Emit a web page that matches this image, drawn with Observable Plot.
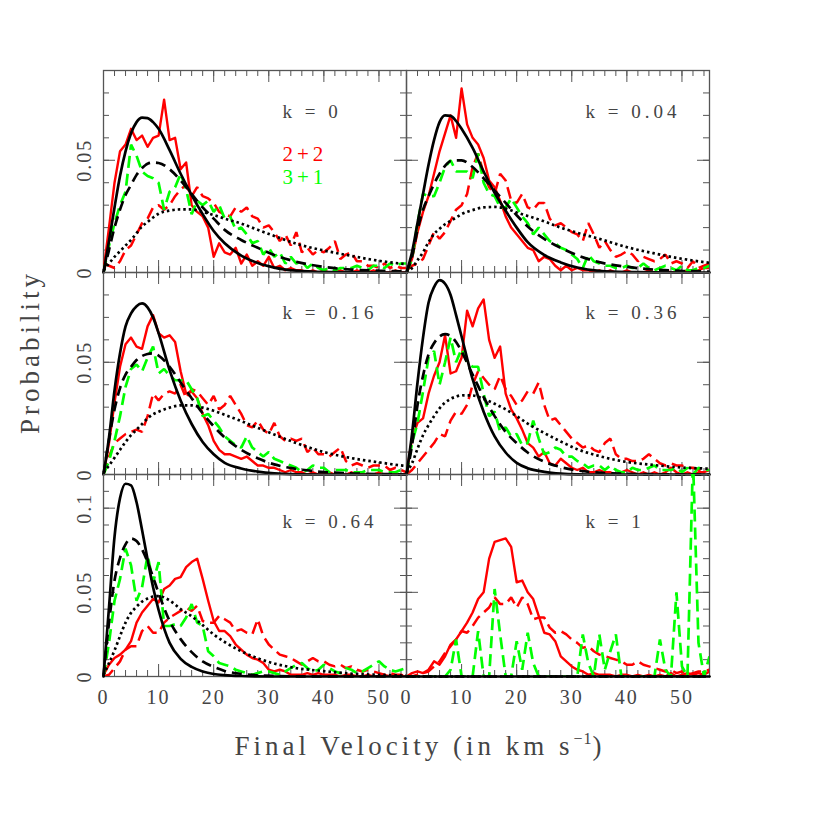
<!DOCTYPE html>
<html><head><meta charset="utf-8">
<script src="https://cdn.jsdelivr.net/npm/d3@7"></script>
<script src="https://cdn.jsdelivr.net/npm/@observablehq/plot@0.6"></script>
<style>
body{margin:0;background:#fff;}
#wrap{position:relative;width:830px;height:830px;background:#fff;font-family:"Liberation Serif","DejaVu Serif",serif;}
.axtitle{position:absolute;color:#444;font-family:"Liberation Serif","DejaVu Serif",serif;font-size:27px;letter-spacing:4px;white-space:nowrap;}
</style></head><body>
<div id="wrap">
  <div class="axtitle" style="left:30px;top:352px;transform:translate(-50%,-50%) rotate(-90deg);">Probability</div>
  <div class="axtitle" style="left:420px;top:746px;transform:translate(-50%,-50%);">Final Velocity (in km s<span style="font-size:16px;vertical-align:11px;letter-spacing:1px">−1</span>)</div>
</div>
<script>
// ---- x grids ----
const velocity = d3.range(0, 56);               // histogram bins, km/s
const smoothVelocity = [0,1,2,3,4,5,6,7,8,9,10,12,14,16,18,20,22,25,28,31,35,40,45,50,55];
const kLabels = ["0","0.04","0.16","0.36","0.64","1"];
const xTickLabels = [0,10,20,30,40,50];

// ---- k = 0 ----
const red22Solid_k0 = [0.001,0.020,0.040,0.054,0.057,0.064,0.059,0.061,0.056,0.060,
 0.061,0.077,0.059,0.060,0.046,0.049,0.030,0.027,0.025,0.020,
 0.007,0.013,0.009,0.008,0.011,0.004,0.008,0.003,0.005,0.003,
 0.007,0.002,0.003,0.001,0.002,0.001,0.001,0.000,0.001,0.000,
 0.001,0.000,0.000,0.001,0.000,0.000,0.001,0.000,0.000,0.001,
 0.000,0.000,0.000,0.001,0.000,0.000];
const red22Dashed_k0 = [0.004,0.003,0.002,0.005,0.010,0.012,0.017,0.022,0.024,0.029,
 0.030,0.028,0.030,0.034,0.037,0.039,0.034,0.038,0.034,0.033,
 0.031,0.027,0.026,0.025,0.029,0.027,0.029,0.025,0.024,0.020,
 0.021,0.018,0.014,0.017,0.012,0.018,0.009,0.011,0.008,0.010,
 0.009,0.011,0.014,0.006,0.008,0.009,0.005,0.005,0.003,0.003,
 0.002,0.004,0.002,0.003,0.002,0.002];
const green31_k0 = [0.000,0.012,0.022,0.030,0.036,0.057,0.052,0.045,0.043,0.042,
 0.040,0.028,0.036,0.038,0.044,0.037,0.026,0.032,0.030,0.032,
 0.027,0.030,0.024,0.025,0.019,0.020,0.017,0.013,0.014,0.008,
 0.011,0.007,0.009,0.004,0.007,0.004,0.005,0.002,0.004,0.002,
 0.001,0.002,0.001,0.002,0.002,0.002,0.003,0.002,0.001,0.003,
 0.003,0.002,0.004,0.003,0.004,0.004];
const modelSolid_k0  = [0,0.014,0.029,0.043,0.054,0.062,0.067,0.069,0.0688,0.067,0.064,0.0545,0.044,0.0345,0.026,0.0185,0.013,0.0075,0.0042,0.0022,0.0008,0.0002,0.0001,0,0];
const modelDashed_k0 = [0,0.010,0.020,0.028,0.0345,0.039,0.0435,0.0465,0.0485,0.049,0.0488,0.046,0.041,0.035,0.029,0.024,0.019,0.0145,0.011,0.0078,0.0048,0.0025,0.0013,0.0008,0.0005];
const modelDotted_k0 = [0.001,0.004,0.007,0.0095,0.012,0.0145,0.0175,0.0205,0.0225,0.0245,0.0262,0.0276,0.0281,0.0281,0.027,0.0256,0.024,0.0218,0.019,0.0163,0.0128,0.0098,0.0074,0.0052,0.0037];

// ---- k = 0.04 ----
const red22Solid_k004 = [0.000,0.006,0.018,0.027,0.034,0.044,0.054,0.062,0.070,0.060,
 0.082,0.066,0.060,0.057,0.051,0.041,0.038,0.032,0.025,0.020,
 0.017,0.014,0.011,0.010,0.005,0.007,0.006,0.003,0.001,0.003,
 0.001,0.002,0.001,0.001,0.000,0.001,0.000,0.001,0.000,0.000,
 0.001,0.000,0.000,0.000,0.001,0.000,0.000,0.001,0.000,0.000,
 0.000,0.001,0.000,0.001,0.002,0.002];
const red22Dashed_k004 = [0.001,0.003,0.004,0.006,0.012,0.018,0.015,0.018,0.023,0.028,
 0.030,0.035,0.047,0.053,0.044,0.038,0.035,0.044,0.041,0.032,
 0.031,0.035,0.029,0.028,0.031,0.031,0.024,0.021,0.022,0.020,
 0.018,0.017,0.014,0.022,0.017,0.011,0.014,0.010,0.007,0.008,
 0.0095,0.008,0.005,0.007,0.006,0.005,0.006,0.008,0.004,0.005,
 0.004,0.002,0.005,0.002,0.003,0.004];
const green31_k004 = [0.000,0.006,0.022,0.035,0.034,0.034,0.040,0.047,0.050,0.045,
 0.045,0.045,0.042,0.053,0.040,0.035,0.034,0.029,0.029,0.033,
 0.029,0.025,0.022,0.017,0.020,0.017,0.014,0.013,0.011,0.010,
 0.008,0.006,0.002,0.008,0.005,0.004,0.003,0.003,0.002,0.002,
 0.003,0.002,0.002,0.004,0.002,0.001,0.002,0.003,0.002,0.001,
 0.003,0.001,0.001,0.002,0.002,0.003];
const modelSolid_k004  = [0,0.009,0.022,0.035,0.048,0.059,0.067,0.070,0.0698,0.0675,0.064,0.0555,0.045,0.0355,0.0275,0.020,0.0135,0.0078,0.0045,0.0022,0.0007,0.0002,0.0001,0,0];
const modelDashed_k004 = [0,0.007,0.019,0.028,0.034,0.0395,0.044,0.0475,0.0497,0.050,0.050,0.047,0.042,0.0365,0.031,0.0255,0.0205,0.015,0.011,0.0077,0.0046,0.0025,0.0013,0.0007,0.0004];
const modelDotted_k004 = [0,0.002,0.0055,0.009,0.0135,0.0172,0.0195,0.0215,0.023,0.0245,0.026,0.0278,0.029,0.0292,0.0285,0.0267,0.0252,0.0228,0.020,0.0177,0.015,0.0113,0.0085,0.0061,0.0043];

// ---- k = 0.16 ----
const red22Solid_k016 = [0.000,0.014,0.032,0.048,0.058,0.061,0.057,0.056,0.066,0.071,
 0.063,0.061,0.062,0.059,0.046,0.036,0.037,0.034,0.027,0.022,
 0.015,0.011,0.009,0.009,0.008,0.007,0.008,0.006,0.004,0.004,
 0.003,0.003,0.002,0.001,0.002,0.001,0.001,0.000,0.001,0.000,
 0.000,0.001,0.000,0.000,0.000,0.001,0.000,0.000,0.000,0.000,
 0.001,0.000,0.000,0.000,0.000,0.000];
const red22Dashed_k016 = [0.000,0.008,0.014,0.016,0.018,0.019,0.020,0.019,0.026,0.036,
 0.033,0.036,0.037,0.036,0.040,0.034,0.038,0.037,0.034,0.031,
 0.035,0.029,0.031,0.035,0.031,0.027,0.022,0.021,0.024,0.020,
 0.018,0.023,0.017,0.015,0.016,0.015,0.016,0.010,0.012,0.009,
 0.009,0.008,0.010,0.012,0.006,0.004,0.005,0.004,0.003,0.004,
 0.004,0.004,0.002,0.003,0.002,0.001];
const green31_k016 = [0.000,0.006,0.015,0.026,0.039,0.047,0.049,0.046,0.052,0.057,
 0.045,0.047,0.044,0.042,0.042,0.042,0.038,0.034,0.026,0.027,
 0.024,0.021,0.017,0.015,0.013,0.012,0.017,0.012,0.010,0.008,
 0.010,0.007,0.006,0.005,0.004,0.003,0.001,0.002,0.004,0.003,
 0.003,0.001,0.002,0.002,0.002,0.001,0.001,0.001,0.002,0.002,
 0.002,0.001,0.001,0.001,0.002,0.002];
const modelSolid_k016  = [0,0.0165,0.0375,0.054,0.066,0.0718,0.075,0.0762,0.0745,0.070,0.063,0.0465,0.033,0.0225,0.0145,0.009,0.0052,0.0027,0.0013,0.0005,0.0001,0,0,0,0];
const modelDashed_k016 = [0,0.0155,0.029,0.0385,0.0445,0.048,0.051,0.0528,0.0537,0.054,0.053,0.048,0.041,0.034,0.0273,0.0215,0.0165,0.011,0.0072,0.0045,0.0025,0.0011,0.0005,0.0002,0.0001];
const modelDotted_k016 = [0.001,0.004,0.0075,0.011,0.0145,0.0175,0.020,0.0225,0.025,0.0268,0.028,0.0298,0.0308,0.0308,0.0298,0.0284,0.0266,0.0238,0.0208,0.0178,0.014,0.010,0.0073,0.0054,0.0037];

// ---- k = 0.36 ----
const red22Solid_k036 = [0.000,0.016,0.023,0.025,0.036,0.044,0.050,0.062,0.045,0.046,
 0.052,0.073,0.066,0.074,0.078,0.060,0.052,0.057,0.036,0.029,
 0.025,0.020,0.014,0.012,0.008,0.010,0.005,0.004,0.007,0.005,
 0.003,0.002,0.003,0.001,0.001,0.002,0.001,0.001,0.000,0.001,
 0.002,0.001,0.000,0.001,0.000,0.001,0.000,0.001,0.003,0.001,
 0.000,0.001,0.000,0.001,0.001,0.002];
const red22Dashed_k036 = [0.000,0.002,0.005,0.008,0.011,0.014,0.018,0.017,0.024,0.028,
 0.027,0.031,0.040,0.046,0.043,0.040,0.038,0.044,0.038,0.035,
 0.031,0.033,0.037,0.036,0.041,0.031,0.024,0.025,0.022,0.019,
 0.016,0.014,0.012,0.013,0.011,0.010,0.014,0.016,0.009,0.007,
 0.007,0.006,0.006,0.007,0.009,0.007,0.005,0.004,0.005,0.004,
 0.004,0.003,0.003,0.002,0.002,0.002];
const green31_k036 = [0.000,0.014,0.023,0.037,0.052,0.055,0.040,0.050,0.061,0.050,
 0.056,0.050,0.048,0.048,0.036,0.026,0.028,0.019,0.021,0.017,
 0.018,0.013,0.014,0.024,0.016,0.009,0.010,0.012,0.011,0.008,
 0.008,0.006,0.005,0.003,0.004,0.004,0.002,0.004,0.002,0.001,
 0.001,0.003,0.002,0.002,0.003,0.004,0.002,0.002,0.002,0.003,
 0.001,0.003,0.000,0.003,0.002,0.002];
const modelSolid_k036  = [0,0.018,0.041,0.061,0.0765,0.0835,0.0866,0.085,0.080,0.071,0.0615,0.0425,0.028,0.017,0.0098,0.0052,0.0028,0.0012,0.0004,0.0001,0,0,0,0,0];
const modelDashed_k036 = [0,0.013,0.031,0.044,0.0535,0.0585,0.0615,0.0625,0.0618,0.059,0.0548,0.0445,0.0345,0.026,0.019,0.014,0.0098,0.0057,0.0033,0.0018,0.0008,0.0003,0.0001,0,0];
const modelDotted_k036 = [0.001,0.005,0.0115,0.0175,0.022,0.026,0.0295,0.032,0.0337,0.0347,0.0353,0.0352,0.0337,0.0315,0.029,0.026,0.0227,0.0185,0.0147,0.0113,0.0082,0.0056,0.0042,0.0031,0.0026];

// ---- k = 0.64 ----
const red22Solid_k064 = [0.001,0.007,0.011,0.013,0.016,0.021,0.032,0.038,0.042,0.046,
 0.044,0.052,0.054,0.058,0.059,0.065,0.068,0.070,0.058,0.045,
 0.033,0.027,0.027,0.024,0.019,0.016,0.013,0.011,0.010,0.008,
 0.004,0.003,0.004,0.003,0.001,0.001,0.001,0.002,0.001,0.002,
 0.001,0.001,0.001,0.000,0.001,0.001,0.000,0.000,0.001,0.000,
 0.000,0.001,0.000,0.000,0.000,0.000];
const red22Dashed_k064 = [0.000,0.001,0.005,0.009,0.016,0.018,0.018,0.027,0.030,0.026,
 0.026,0.032,0.035,0.037,0.039,0.041,0.039,0.042,0.033,0.032,
 0.032,0.036,0.034,0.032,0.027,0.028,0.026,0.025,0.034,0.024,
 0.019,0.016,0.013,0.012,0.011,0.009,0.007,0.009,0.011,0.009,
 0.009,0.007,0.006,0.007,0.005,0.006,0.004,0.003,0.004,0.003,
 0.002,0.001,0.002,0.001,0.001,0.000];
const green31_k064 = [0.000,0.020,0.045,0.058,0.076,0.066,0.045,0.053,0.072,0.056,
 0.068,0.030,0.030,0.031,0.030,0.035,0.043,0.032,0.030,0.015,
 0.012,0.008,0.007,0.006,0.004,0.003,0.002,0.001,0.002,0.003,
 0.003,0.002,0.001,0.003,0.005,0.007,0.008,0.005,0.003,0.004,
 0.007,0.005,0.003,0.002,0.005,0.004,0.002,0.003,0.005,0.007,
 0.009,0.006,0.004,0.003,0.004,0.005];
const modelSolid_k064  = [0,0.041,0.083,0.106,0.1145,0.1135,0.1035,0.087,0.0695,0.053,0.0395,0.020,0.0105,0.0057,0.003,0.0015,0.0008,0.0003,0.0001,0,0,0,0,0,0];
const modelDashed_k064 = [0,0.032,0.057,0.0705,0.0785,0.082,0.0805,0.0755,0.068,0.059,0.0495,0.033,0.0222,0.0145,0.009,0.0057,0.0033,0.0016,0.0007,0.0003,0.0001,0,0,0,0];
const modelDotted_k064 = [0.001,0.008,0.0155,0.024,0.032,0.0378,0.0415,0.0445,0.0463,0.0475,0.0478,0.0452,0.040,0.0358,0.0305,0.025,0.0205,0.015,0.0108,0.0077,0.005,0.0032,0.0017,0.001,0.0005];

// ---- k = 1 ----
const red22Solid_k1 = [0.000,0.002,0.003,0.002,0.004,0.009,0.007,0.012,0.019,0.022,
 0.027,0.032,0.038,0.046,0.050,0.070,0.080,0.081,0.082,0.077,
 0.056,0.057,0.050,0.046,0.036,0.026,0.025,0.021,0.012,0.009,
 0.006,0.004,0.003,0.001,0.002,0.001,0.001,0.001,0.000,0.001,
 0.001,0.000,0.001,0.000,0.001,0.000,0.001,0.000,0.002,0.000,
 0.001,0.002,0.001,0.002,0.001,0.003];
const red22Dashed_k1 = [0.000,0.000,0.001,0.002,0.003,0.006,0.009,0.014,0.018,0.022,
 0.027,0.026,0.030,0.035,0.038,0.041,0.047,0.043,0.043,0.047,
 0.041,0.047,0.043,0.034,0.035,0.035,0.029,0.026,0.027,0.025,
 0.022,0.020,0.017,0.018,0.015,0.013,0.012,0.011,0.010,0.009,
 0.007,0.007,0.009,0.007,0.006,0.005,0.004,0.003,0.004,0.002,
 0.003,0.001,0.002,0.003,0.003,0.004];
const green31_k1 = [0,0,0,0,0,0,0,0,0.004,0.022,
 0,0,0,0.027,0,0,0.052,0.025,0,0,
 0.021,0.004,0.026,0.008,0,0,0,0,0,0,
 0,0,0.025,0.008,0,0.025,0.004,0.015,0.025,0,
 0,0,0,0,0,0,0.022,0.004,0,0.050,
 0.006,0,0.13,0.020,0,0.012];
const modelSolid_k1  = [0,0,0,0,0,0,0,0,0,0,0,0,0,0,0,0,0,0,0,0,0,0,0,0,0];
const modelDashed_k1 = [0,0,0,0,0,0,0,0,0,0,0,0,0,0,0,0,0,0,0,0,0,0,0,0,0];
const modelDotted_k1 = [0,0,0,0,0,0,0,0,0,0,0,0,0,0,0,0,0,0,0,0,0,0,0,0,0];

const panels = [
  {k:kLabels[0], col:0, row:0, ymax:0.09, red:red22Solid_k0,   redDash:red22Dashed_k0,   green:green31_k0,   solid:modelSolid_k0,   dashed:modelDashed_k0,   dotted:modelDotted_k0, legend:true},
  {k:kLabels[1], col:1, row:0, ymax:0.09, red:red22Solid_k004, redDash:red22Dashed_k004, green:green31_k004, solid:modelSolid_k004, dashed:modelDashed_k004, dotted:modelDotted_k004},
  {k:kLabels[2], col:0, row:1, ymax:0.09, red:red22Solid_k016, redDash:red22Dashed_k016, green:green31_k016, solid:modelSolid_k016, dashed:modelDashed_k016, dotted:modelDotted_k016},
  {k:kLabels[3], col:1, row:1, ymax:0.09, red:red22Solid_k036, redDash:red22Dashed_k036, green:green31_k036, solid:modelSolid_k036, dashed:modelDashed_k036, dotted:modelDotted_k036},
  {k:kLabels[4], col:0, row:2, ymax:0.12, red:red22Solid_k064, redDash:red22Dashed_k064, green:green31_k064, solid:modelSolid_k064, dashed:modelDashed_k064, dotted:modelDotted_k064},
  {k:kLabels[5], col:1, row:2, ymax:0.12, red:red22Solid_k1,   redDash:red22Dashed_k1,   green:green31_k1,   solid:modelSolid_k1,   dashed:modelDashed_k1,   dotted:modelDotted_k1}
];

const W = 303, H = 202, M = 40;
const colLeft = [103, 406];
const rowTop = [70, 272, 474];
const kDy = [47, 46, 53];
const FRAME = "#555", TXT = "#444", FONT = "Liberation Serif, DejaVu Serif, serif";
const RED = "#ff0000", GREEN = "#00ff00";
const wrap = document.getElementById("wrap");

for (const p of panels) {
  const nY = Math.round(p.ymax * 100);
  const yMinor = d3.range(0, nY + 1).map(i => i / 100);
  const yMajor = yMinor.filter((v, i) => i % 5 === 0);
  const xMinor = d3.range(0, 56, 2);
  const xMajor = d3.range(0, 56, 10);
  const hist = ys => velocity.map((v, i) => ({v, p: ys[i]}));
  const model = ys => smoothVelocity.map((v, i) => ({v, p: ys[i]}));
  const dash = {strokeLinecap: "butt", strokeLinejoin: "miter"};
  const marks = [
    Plot.tickX(xMinor, {x: d => d, insetTop: H - 6, stroke: FRAME}),
    Plot.tickX(xMajor, {x: d => d, insetTop: H - 12, stroke: FRAME}),
    Plot.tickX(xMinor, {x: d => d, insetBottom: H - 6, stroke: FRAME}),
    Plot.tickX(xMajor, {x: d => d, insetBottom: H - 12, stroke: FRAME}),
    Plot.tickY(yMinor, {y: d => d, insetRight: W - 6, stroke: FRAME}),
    Plot.tickY(yMajor, {y: d => d, insetRight: W - 12, stroke: FRAME}),
    Plot.tickY(yMinor, {y: d => d, insetLeft: W - 6, stroke: FRAME}),
    Plot.tickY(yMajor, {y: d => d, insetLeft: W - 12, stroke: FRAME}),
    Plot.frame({stroke: FRAME, strokeWidth: 1.3}),
    Plot.line(hist(p.red), {x: "v", y: "p", stroke: RED, strokeWidth: 2.4, clip: true}),
    Plot.line(hist(p.redDash), {x: "v", y: "p", stroke: RED, strokeWidth: 2.5, strokeDasharray: "12,6", clip: true, ...dash}),
    Plot.line(hist(p.green), {x: "v", y: "p", stroke: GREEN, strokeWidth: 2.7, strokeDasharray: "12,6", clip: true, ...dash}),
    Plot.line(model(p.dotted), {x: "v", y: "p", stroke: "#000", strokeWidth: 2.7, strokeDasharray: "2.5,3", curve: "monotone-x", ...dash}),
    Plot.line(model(p.dashed), {x: "v", y: "p", stroke: "#000", strokeWidth: 2.7, strokeDasharray: "10,6", curve: "monotone-x", ...dash}),
    Plot.line(model(p.solid), {x: "v", y: "p", stroke: "#000", strokeWidth: 2.7, curve: "monotone-x"}),
    Plot.text([`k = ${p.k}`], {text: d => d, frameAnchor: "top-left", dx: 179, dy: kDy[p.row], textAnchor: "start", lineAnchor: "bottom", fontSize: 19, fill: TXT, fontFamily: FONT})
  ];
  if (p.legend) {
    marks.push(Plot.text(["2+2"], {text: d => d, frameAnchor: "top-left", dx: 179, dy: 90, textAnchor: "start", lineAnchor: "bottom", fontSize: 21, fill: RED, fontFamily: FONT}));
    marks.push(Plot.text(["3+1"], {text: d => d, frameAnchor: "top-left", dx: 179, dy: 113, textAnchor: "start", lineAnchor: "bottom", fontSize: 21, fill: GREEN, fontFamily: FONT}));
  }
  if (p.col === 0) {
    marks.push(Plot.text(yMajor, {y: d => d, text: d => d === 0 ? "0" : String(+d.toFixed(2)), frameAnchor: "left", dx: -13, rotate: -90, textAnchor: "middle", lineAnchor: "bottom", fontSize: 20, fill: TXT, fontFamily: FONT}));
  }
  if (p.row === 2) {
    marks.push(Plot.text(xTickLabels, {x: d => d, text: d => String(d), frameAnchor: "bottom", dy: 13, textAnchor: "middle", lineAnchor: "top", fontSize: 20, fill: TXT, fontFamily: FONT}));
  }
  const svg = Plot.plot({
    width: W + 2 * M, height: H + 2 * M,
    marginLeft: M, marginRight: M, marginTop: M, marginBottom: M,
    x: {domain: [0, 55], axis: null},
    y: {domain: [0, p.ymax], axis: null},
    style: {background: "transparent", overflow: "visible", fontFamily: FONT},
    marks
  });
  svg.style.position = "absolute";
  svg.style.left = (colLeft[p.col] - M) + "px";
  svg.style.top = (rowTop[p.row] - M) + "px";
  svg.style.maxWidth = "none";
  svg.querySelectorAll("text").forEach(t => {
    const s = t.textContent;
    t.setAttribute("letter-spacing", /k|\+/.test(s) ? "4" : "2");
  });
  wrap.appendChild(svg);
}
</script>
</body></html>
